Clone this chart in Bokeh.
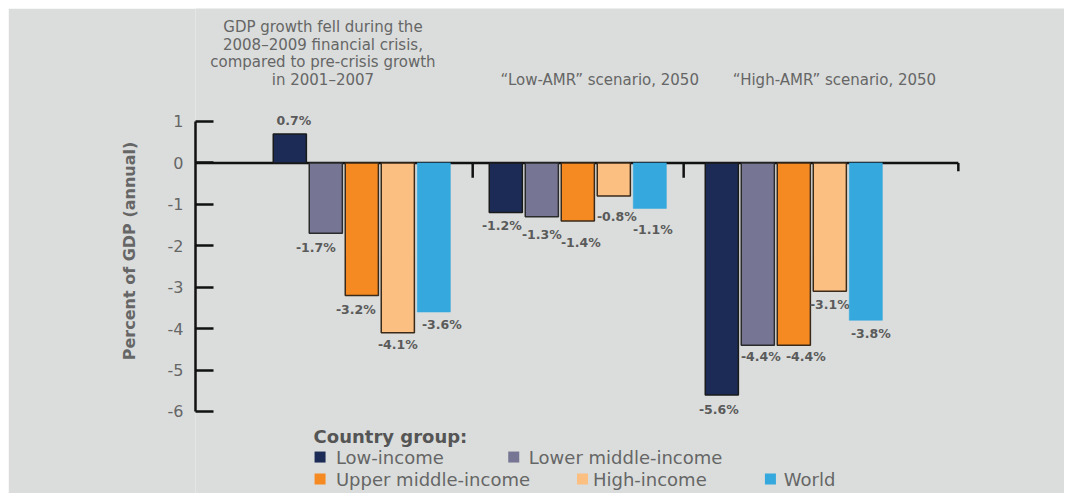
from bokeh.plotting import figure
from bokeh.models import FixedTicker, Range1d, ColumnDataSource
from bokeh.core.properties import value
from bokeh.embed import file_html
from bokeh.resources import INLINE

# ---------------- data ----------------
series_names = ["Low-income", "Lower middle-income", "Upper middle-income", "High-income", "World"]
low_income = [0.7, -1.2, -5.6]
lower_middle_income = [-1.7, -1.3, -4.4]
upper_middle_income = [-3.2, -1.4, -4.4]
high_income = [-4.1, -0.8, -3.1]
world = [-3.6, -1.1, -3.8]
group_titles = [
    ["GDP growth fell during the", "2008\u20132009 financial crisis,",
     "compared to pre-crisis growth", "in 2001\u20132007"],
    ["\u201cLow-AMR\u201d scenario, 2050"],
    ["\u201cHigh-AMR\u201d scenario, 2050"],
]
y_ticks = [1, 0, -1, -2, -3, -4, -5, -6]

# ---------------- style ----------------
BG = "#dadddc"
colors = ["#1b2b55", "#777594", "#f58a22", "#fcbf82", "#35a8de"]
outlines = ["#1a1a1a", "#2a2a2a", "#3a2a1a", "#3a2a1a", None]
TXT = "#666666"
VAL = "#5a5a5a"
FONT = "DejaVu Sans"

# label nudges in screen px (x right, y down) for each series/group
lbl_dx = [[4, -4, -3], [-10, 0, 3], [-6, 3, 12], [0, 3, 0], [8, 3, 5]]
lbl_dy = [[13, 13, 15], [14, 18, 11], [14, 22, 11], [12, 20, 13], [12, 21, 13]]

W, H = 1056, 485
LEFT = 187
UNIT_X = 36.0
frame_w = W - LEFT

p = figure(width=W, height=H, output_backend="svg", toolbar_location=None,
           x_range=Range1d(0, frame_w / UNIT_X), y_range=Range1d(-7.98, 3.727),
           min_border_left=LEFT, min_border_right=0, min_border_top=0, min_border_bottom=0)
p.margin = (8, 8, 8, 8)
p.background_fill_color = BG
p.border_fill_color = BG
p.outline_line_color = None
p.xgrid.visible = False
p.ygrid.visible = False
p.xaxis.visible = False

ax = p.yaxis[0]
ax.ticker = FixedTicker(ticks=y_ticks)
ax.major_label_overrides = {t: str(t) for t in y_ticks}
ax.bounds = (-6, 1)
ax.axis_line_width = 2.5
ax.axis_line_color = "#111111"
ax.major_tick_line_width = 2.5
ax.major_tick_line_color = "#111111"
ax.major_tick_in = 18
ax.major_tick_out = 0
ax.minor_tick_line_color = None
ax.major_label_standoff = 12
ax.major_label_text_font = FONT
ax.major_label_text_font_size = "16px"
ax.major_label_text_color = TXT
ax.axis_label = "Percent of GDP (annual)"
ax.axis_label_text_font = FONT
ax.axis_label_text_font_style = "bold"
ax.axis_label_text_font_size = "16px"
ax.axis_label_text_color = TXT
ax.axis_label_standoff = 26

series = [low_income, lower_middle_income, upper_middle_income, high_income, world]
n_groups = len(low_income)
group_center = [4.62 + 6 * g for g in range(n_groups)]
bar_w = 0.92

# zero line with group separators
x_end = 21.19
p.segment(x0=[0], y0=[0], x1=[x_end], y1=[0], line_color="#111111", line_width=2.5)
sep_x = [7.7, 13.56, x_end]
sep_len = [0.36, 0.36, 0.2]
p.segment(x0=sep_x, y0=[0] * 3, x1=sep_x, y1=[-l for l in sep_len],
          line_color="#111111", line_width=2.5)

for i, vals in enumerate(series):
    xs = [group_center[g] + (i - 2) * 1.0 for g in range(n_groups)]
    src = ColumnDataSource(dict(x=xs, top=vals, bottom=[0] * n_groups))
    p.vbar(x="x", top="top", bottom="bottom", width=bar_w, source=src,
           fill_color=colors[i],
           line_color=outlines[i] if outlines[i] else colors[i],
           line_width=1.5 if outlines[i] else 0.5)
    for g in range(n_groups):
        v = vals[g]
        p.text(x=[xs[g]], y=[v], text=[f"{v:.1f}%"],
               x_offset=lbl_dx[i][g],
               y_offset=(-lbl_dy[i][g] if v > 0 else lbl_dy[i][g]),
               text_align="center", text_baseline="middle",
               text_font=value(FONT), text_font_style="bold",
               text_font_size="12.5px", text_color=VAL)

# group titles
title_cx = [3.54, 11.23, 17.75]
for g, lines in enumerate(group_titles):
    n = len(lines)
    ys = [2.0 + (n - 1 - k) * 0.428 for k in range(n)]
    p.text(x=[title_cx[g]] * n, y=ys, text=lines, text_align="center",
           text_baseline="middle", text_font=value(FONT),
           text_font_size="15px", text_color=TXT)

# legend (manual layout)
p.text(x=[3.28], y=[-6.60], text=["Country group:"], text_align="left",
       text_baseline="middle", text_font=value(FONT), text_font_style="bold",
       text_font_size="18px", text_color="#555555")
leg_sq_x = [3.46, 8.84, 3.46, 10.75, 15.97]
leg_tx_x = [3.90, 9.26, 3.90, 11.04, 16.34]
leg_y = [-7.10, -7.10, -7.63, -7.63, -7.63]
p.scatter(x=leg_sq_x, y=leg_y, marker="square", size=11, fill_color=colors,
          line_color=None)
p.text(x=leg_tx_x, y=leg_y, text=series_names, text_align="left",
       text_baseline="middle", text_font=value(FONT), text_font_size="18px",
       text_color=TXT)

open("out.html", "w").write(file_html(p, INLINE))
